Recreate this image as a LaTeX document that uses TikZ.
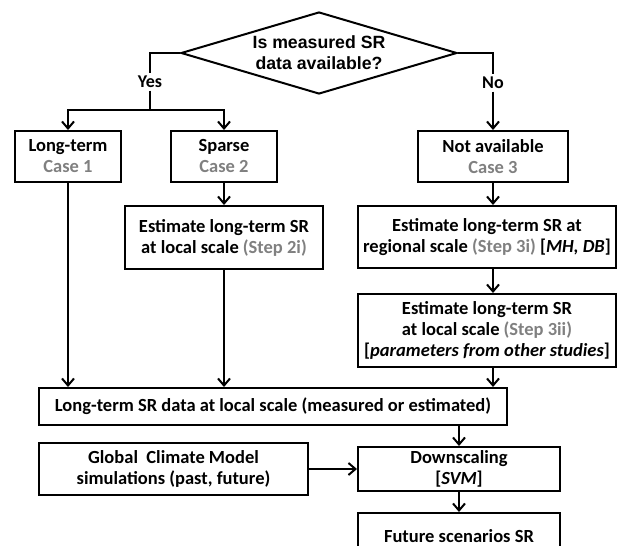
\documentclass[tikz,border=0pt]{standalone}
\usepackage{fontspec}
\setmainfont{Carlito}
\newfontfamily\qfont{Liberation Sans}
\usetikzlibrary{arrows.meta,shapes.geometric}
\definecolor{stepgray}{RGB}{128,128,128}
\newcommand{\cs}[1]{{\color{stepgray}#1}}
\begin{document}
\begin{tikzpicture}[x=1pt,y=-1pt,
  box/.style={draw,line width=2pt,inner sep=0pt,align=center,
    font=\bfseries\fontsize{18.5}{21}\selectfont},
  conn/.style={line width=2pt},
  arr/.style={conn,-{Straight Barb[length=7pt,width=12pt,line width=2pt]}},
  yn/.style={inner sep=2.5pt,font=\bfseries\fontsize{18}{20}\selectfont}]
\useasboundingbox (0,0) rectangle (627,546);
\clip (0,0) rectangle (627,546);
% decision
\node[draw,diamond,aspect=3.37,minimum width=276pt,minimum height=82pt,inner sep=-4pt,
  line width=2pt,align=center,font=\qfont\bfseries\fontsize{17.7}{21}\selectfont]
  (q) at (319,53) {Is measured SR\\data available?};
\node[yn] (yes) at (150,82) {Yes};
\node[yn] (no) at (493,83) {No};
\coordinate (br) at (150,110);
% boxes
\node[box,minimum width=106pt,minimum height=51pt] (lt) at (68,156.5) {Long-term\\\cs{Case 1}};
\node[box,minimum width=106pt,minimum height=51pt] (sp) at (224,156.5) {Sparse\\\cs{Case 2}};
\node[box,minimum width=150pt,minimum height=51pt] (na) at (493,156.5) {Not available\\\cs{Case 3}};
\node[box,minimum width=198pt,minimum height=63pt] (e2) at (224,237.5)
  {Estimate long-term SR\\at local scale \cs{(Step 2i)}};
\node[box,minimum width=258pt,minimum height=62pt] (e3i) at (487,237)
  {Estimate long-term SR at\\regional scale \cs{(Step 3i)} [\textit{MH, DB}]};
\node[box,minimum width=258pt,minimum height=73pt] (e3ii) at (487,330.5)
  {Estimate long-term SR\\at local scale \cs{(Step 3ii)}\\{[}\textit{parameters from other studies}{]}};
\node[box,minimum width=468pt,minimum height=37pt] (ld) at (273,406.5)
  {Long-term SR data at local scale (measured or estimated)};
\node[box,minimum width=269pt,minimum height=52pt] (gcm) at (173.5,469)
  {Global\ \ Climate Model\\simulations (past, future)};
\node[box,minimum width=202pt,minimum height=44pt] (ds) at (459,469)
  {Downscaling\\{[}\textit{SVM}{]}};
\node[box,minimum width=202pt,minimum height=46pt] (fut) at (459,536)
  {Future scenarios SR};
% connectors
\draw[conn] (q.west) -| (yes.north);
\draw[conn] (yes.south) -- (br);
\draw[arr] (br) -| (lt.north);
\draw[arr] (br) -| (sp.north);
\draw[conn] (q.east) -| (no.north);
\draw[arr] (no.south) -- (na.north);
\draw[arr] (lt.south) -- (lt.south |- ld.north);
\draw[arr] (sp.south) -- (sp.south |- e2.north);
\draw[arr] (e2.south) -- (e2.south |- ld.north);
\draw[arr] (na.south) -- (na.south |- e3i.north);
\draw[arr] (na.south |- e3i.south) -- (na.south |- e3ii.north);
\draw[arr] (na.south |- e3ii.south) -- (na.south |- ld.north);
\draw[arr] (ds.north |- ld.south) -- (ds.north);
\draw[arr] (gcm.east) -- (gcm.east -| ds.west);
\draw[arr] (ds.south) -- (fut.north);
\end{tikzpicture}
\end{document}
